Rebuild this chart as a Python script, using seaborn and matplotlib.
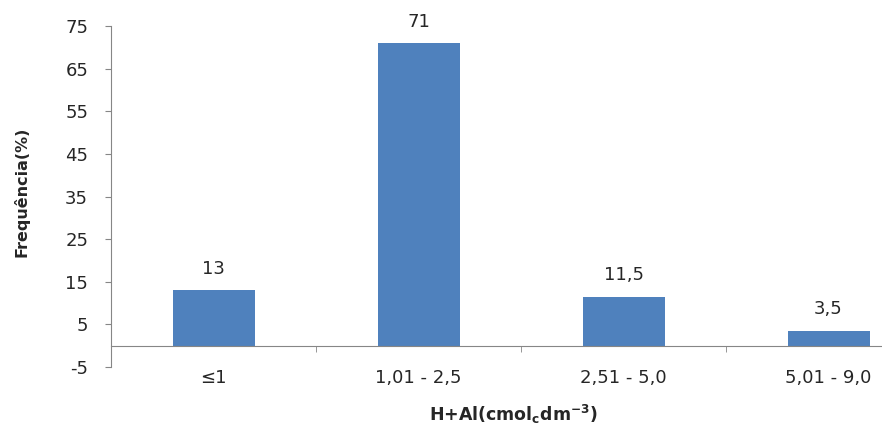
import matplotlib
matplotlib.use("Agg")
import matplotlib.pyplot as plt
import seaborn as sns

# data
categories = ["≤1", "1,01 - 2,5", "2,51 - 5,0", "5,01 - 9,0"]
frequencies = [13, 71, 11.5, 3.5]
value_labels = ["13", "71", "11,5", "3,5"]
y_ticks = [-5, 5, 15, 25, 35, 45, 55, 65, 75]

sns.set_style("white")
plt.rcParams["font.family"] = ["DejaVu Sans"]
plt.rcParams["mathtext.fontset"] = "dejavusans"
plt.rcParams["axes.unicode_minus"] = False

bar_color = "#4F81BD"
axis_color = "#868686"
text_color = "#262626"

fig = plt.figure(figsize=(8.82, 4.28), dpi=100)
ax = fig.add_axes([0.1259, 0.1425, 0.9297, 0.7967])

sns.barplot(x=categories, y=frequencies, color=bar_color, saturation=1,
            width=0.4, linewidth=0, ax=ax)

ax.set_xlim(-0.5, 3.5)
ax.set_ylim(-5, 75)
ax.set_yticks(y_ticks)

for i, (v, lab) in enumerate(zip(frequencies, value_labels)):
    ax.annotate(lab, (i, v), xytext=(0, 9), textcoords="offset points",
                ha="center", va="bottom", fontsize=13, color=text_color)

# spines: y axis on the left, x axis line at zero
for side in ["top", "right"]:
    ax.spines[side].set_visible(False)
ax.spines["left"].set_color(axis_color)
ax.spines["bottom"].set_color(axis_color)
ax.spines["bottom"].set_position(("data", 0))

ax.tick_params(axis="y", direction="out", length=4.5, color=axis_color,
               labelsize=13, labelcolor=text_color, pad=12, left=True)
ax.tick_params(axis="x", which="major", length=0, labelsize=13,
               labelcolor=text_color, pad=17)
ax.set_xticks([0.5, 1.5, 2.5], minor=True)
ax.tick_params(axis="x", which="minor", direction="out", length=4.5,
               color=axis_color, bottom=True)

ax.set_ylabel("Frequência(%)", fontsize=11.5, fontweight="bold",
              color=text_color)
ax.set_xlabel(r"H+Al(cmol$_\mathbf{c}$dm$^\mathbf{-3}$)", fontsize=12.5,
              fontweight="bold", color=text_color)
ax.xaxis.set_label_coords((513 - 111) / 820, -0.105)
ax.yaxis.set_label_coords(-0.099, 0.515)

fig.savefig("out.png", dpi=100)
